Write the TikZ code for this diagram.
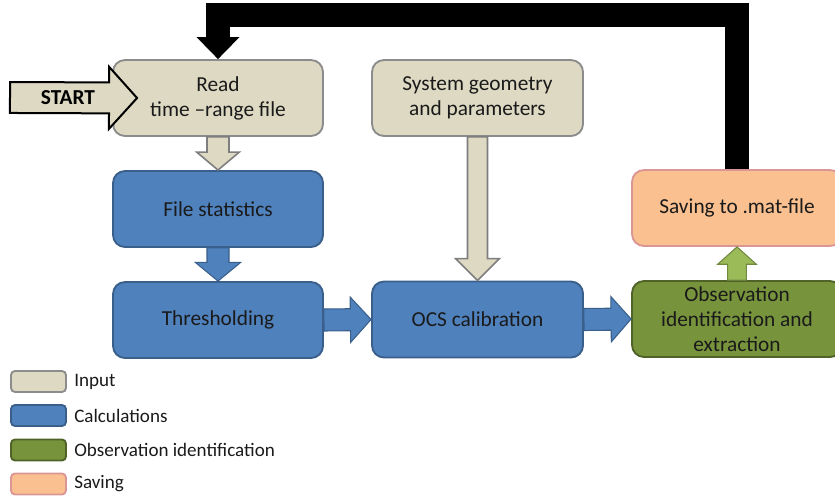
\documentclass[tikz,border=0pt]{standalone}
\usepackage{fontspec}
\setmainfont{Carlito}
\usetikzlibrary{calc}
\definecolor{inF}{HTML}{DDD9C3}
\definecolor{inD}{HTML}{8C8C8C}
\definecolor{calF}{HTML}{4F81BD}
\definecolor{calD}{HTML}{3A5F8B}
\definecolor{obsF}{HTML}{77933C}
\definecolor{obsD}{HTML}{4F6228}
\definecolor{savF}{HTML}{FAC090}
\definecolor{savD}{HTML}{D99694}
\definecolor{grnA}{HTML}{9BBB59}
\definecolor{grnD}{HTML}{71893F}
\definecolor{txt}{HTML}{1A1A1A}
% #1 style, #2 from, #3 to, #4 body half width, #5 head half width, #6 head length
\newcommand{\blockarr}[6]{%
  \coordinate (bah) at ($(#3)!#6!(#2)$);
  \draw[#1] ($(#2)!#4!90:(#3)$) -- ($(bah)!#4!-90:(#2)$) -- ($(bah)!#5!-90:(#2)$)
    -- (#3) -- ($(bah)!#5!90:(#2)$) -- ($(bah)!#4!90:(#2)$) -- ($(#2)!#4!-90:(#3)$) -- cycle;}
\begin{document}
\begin{tikzpicture}[x=0.75pt,y=-0.75pt,
  every node/.style={font=\fontsize{16pt}{18.75pt}\selectfont, text=txt},
  box/.style={rounded corners=9pt, minimum width=157.5pt, minimum height=57pt,
    align=center, line width=1.4pt, inner sep=0pt},
  inbox/.style={box, fill=inF, draw=inD},
  calbox/.style={box, fill=calF, draw=calD},
  obsbox/.style={box, fill=obsF, draw=obsD},
  savbox/.style={box, fill=savF, draw=savD},
  lgd/.style={rounded corners=3pt, minimum width=41.25pt, minimum height=15.75pt,
    line width=1.4pt, inner sep=0pt},
  lgdtxt/.style={anchor=west, inner sep=0pt, font=\fontsize{14.3pt}{17pt}\selectfont},
  inarr/.style={fill=inF, draw=inD!90!black, line width=1.2pt, line join=miter},
  calarr/.style={fill=calF, draw=calD, line width=0.8pt, line join=miter},
  grnarr/.style={fill=grnA, draw=grnD, line width=0.8pt, line join=miter},
  startarr/.style={fill=inF, draw=black, line width=1.5pt, line join=miter},
  fback/.style={line width=18pt, line join=miter, draw=black}
]
\clip (0,0) rectangle (835,500);

% boxes
\node[inbox] (read) at (218,98) {Read\\time \textendash range file};
\node[calbox] (stats) at (218,209) {File statistics};
\node[calbox] (thresh) at (218,320) {Thresholding};
\node[inbox, minimum width=158.25pt] (sys) at (477.5,98) {System geometry\\and parameters};
\node[calbox, minimum width=158.25pt] (ocs) at (477.5,319.5) {OCS calibration};
\node[savbox] (save) at (737,208) {Saving to .mat-file};
\node[obsbox] (obs) at (737,319) {Observation\\identification and\\extraction};

% block arrows
\blockarr{inarr}{read.south}{stats.north}{8.25pt}{16pt}{13.5pt}
\blockarr{calarr}{stats.south}{thresh.north}{8.25pt}{17pt}{14pt}
\blockarr{calarr}{thresh.east}{ocs.west}{8.25pt}{17pt}{15.5pt}
\blockarr{inarr}{sys.south}{ocs.north}{7.5pt}{16.5pt}{16.5pt}
\blockarr{calarr}{ocs.east}{obs.west}{8.25pt}{17pt}{15pt}
\blockarr{grnarr}{obs.north}{save.south}{7pt}{14.5pt}{13pt}

% START arrow
\coordinate (startT) at (10,97.5);
\coordinate (startH) at ($(read.west)+(25,0)$);
\blockarr{startarr}{startT}{startH}{11.6pt}{23.25pt}{21pt}
\node[font=\fontsize{16pt}{18pt}\selectfont\bfseries, text=black] (starttxt) at ($(startT)+(58,0)$) {START};

% feedback arrow
\coordinate (fbA) at ($(read.north)+(0,-22)$);
\coordinate (fbTop) at ($(read.north)+(0,-44)$);
\draw[fback] (save.north) |- (fbTop) -- (fbA);
\fill[black] ($(fbA)+(-21.5,0)$) -- (read.north) -- ($(fbA)+(21.5,0)$) -- cycle;

% legend
\node[lgd, fill=inF, draw=inD] (l1) at (38.5,381.5) {};
\node[lgd, fill=calF, draw=calD] (l2) at (38.5,415.5) {};
\node[lgd, fill=obsF, draw=obsD] (l3) at (38.5,450) {};
\node[lgd, fill=savF, draw=savD] (l4) at (38.5,484) {};
\node[lgdtxt] (t1) at (74,381.5) {Input};
\node[lgdtxt] (t2) at (74,415.5) {Calculations};
\node[lgdtxt] (t3) at (74,450) {Observation identification};
\node[lgdtxt] (t4) at (74,484) {Saving};
\end{tikzpicture}
\end{document}
